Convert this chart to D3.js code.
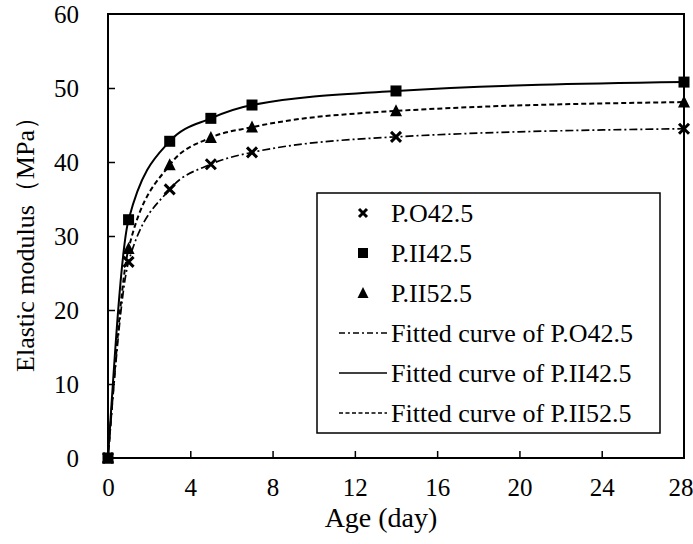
<!DOCTYPE html>
<html><head><meta charset="utf-8">
<script src="https://cdn.jsdelivr.net/npm/d3@7/dist/d3.min.js"></script>
<style>
html,body{margin:0;padding:0;background:#fff;}
text{font-family:"Liberation Serif","Times New Roman",serif;fill:#000;}
</style></head>
<body><svg id="c" width="693" height="544"></svg>
<script>
const ages = [0, 1, 3, 5, 7, 14, 28];
const seriesPO425 = [0, 26.5, 36.3, 39.7, 41.3, 43.4, 44.5];
const seriesPII425 = [0, 32.2, 42.8, 45.9, 47.7, 49.6, 50.8];
const seriesPII525 = [0, 28.3, 39.6, 43.3, 44.7, 46.9, 48.1];
const xTicks = [0, 4, 8, 12, 16, 20, 24, 28];
const yTicks = [0, 10, 20, 30, 40, 50, 60];
const legendLabels = ["P.O42.5", "P.II42.5", "P.II52.5",
  "Fitted curve of P.O42.5", "Fitted curve of P.II42.5", "Fitted curve of P.II52.5"];

const svg = d3.select("#c");
const L = 108, R = 684, T = 14, B = 458;
const x = d3.scaleLinear().domain([0, 28]).range([L, R]);
const y = d3.scaleLinear().domain([0, 60]).range([B, T]);
const FONT = '"Liberation Serif","Times New Roman",serif';

const series = [
  {name: "PO", vals: seriesPO425, marker: "x", dash: "8,3,2,3", width: 1.7},
  {name: "PII42", vals: seriesPII425, marker: "square", dash: null, width: 2},
  {name: "PII52", vals: seriesPII525, marker: "tri", dash: "5,3", width: 2}
];

// axes
const xAxis = d3.axisBottom(x).tickValues(xTicks).tickSize(-7).tickPadding(20).tickFormat(d3.format("d"));
const yAxis = d3.axisLeft(y).tickValues(yTicks).tickSize(-7).tickPadding(29).tickFormat(d3.format("d"));
const gx = svg.append("g").attr("transform", `translate(0,${B})`).call(xAxis);
const gy = svg.append("g").attr("transform", `translate(${L},0)`).call(yAxis);
[gx, gy].forEach(g => {
  g.select(".domain").remove();
  g.selectAll("line").attr("stroke", "#000").attr("stroke-width", 1.5);
  g.selectAll("text").style("font-size", "25px").style("font-family", FONT).attr("fill", "#000");
});
gx.selectAll(".tick").filter(d => d === 0 || d === 28).select("line").remove();
gy.selectAll(".tick").filter(d => d === 0 || d === 60).select("line").remove();
gy.selectAll("text").attr("dy", "0.35em");
gx.selectAll("text").attr("y", 38).attr("dy", 0);
gx.selectAll(".tick").filter(d => d === 28).select("text").attr("text-anchor", "end").attr("x", 693 - R);

// frame
svg.append("rect").attr("x", L).attr("y", T).attr("width", R - L).attr("height", B - T)
  .attr("fill", "none").attr("stroke", "#000").attr("stroke-width", 2);

// curves
const line = d3.line().x(d => x(d[0])).y(d => y(d[1])).curve(d3.curveMonotoneX);
series.forEach(s => {
  const pts = ages.map((a, i) => [a, s.vals[i]]);
  svg.append("path").attr("d", line(pts)).attr("fill", "none").attr("stroke", "#000")
    .attr("stroke-width", s.width).attr("stroke-dasharray", s.dash);
});

function drawMarker(g, type, cx, cy, sz) {
  if (type === "square") {
    g.append("rect").attr("x", cx - sz / 2).attr("y", cy - sz / 2).attr("width", sz).attr("height", sz).attr("fill", "#000");
  } else if (type === "tri") {
    const h = sz;
    g.append("path").attr("d", `M${cx},${cy - h * 0.55}L${cx + sz / 2},${cy + h * 0.45}L${cx - sz / 2},${cy + h * 0.45}Z`).attr("fill", "#000");
  } else {
    const r = sz / 2;
    g.append("path").attr("d", `M${cx - r},${cy - r}L${cx + r},${cy + r}M${cx - r},${cy + r}L${cx + r},${cy - r}`)
      .attr("stroke", "#000").attr("stroke-width", 3).attr("fill", "none");
  }
}
const gm = svg.append("g");
series.forEach(s => {
  ages.forEach((a, i) => {
    const sz = s.marker === "square" ? 11 : (s.marker === "tri" ? 12 : 10);
    drawMarker(gm, s.marker, x(a), y(s.vals[i]), sz);
  });
});

// legend
const lg = svg.append("g");
lg.append("rect").attr("x", 317).attr("y", 193).attr("width", 343).attr("height", 240)
  .attr("fill", "#fff").attr("stroke", "#000").attr("stroke-width", 1.5);
legendLabels.forEach((lab, i) => {
  const cy = 213 + i * 40;
  if (i < 3) {
    const s = series[i];
    drawMarker(lg, s.marker, 363, cy, s.marker === "square" ? 10 : (s.marker === "tri" ? 11 : 8));
  } else {
    const s = series[i - 3];
    lg.append("line").attr("x1", 339).attr("x2", 387).attr("y1", cy).attr("y2", cy)
      .attr("stroke", "#000").attr("stroke-width", s.dash ? 1.3 : 1.6).attr("stroke-dasharray", s.dash ? (i === 3 ? "6,3,2,3" : "4,2.5") : null);
  }
  lg.append("text").attr("x", 391).attr("y", cy).attr("dy", "0.35em").style("font-size", "26px").attr("fill", "#000").text(lab);
});

// axis titles
svg.append("text").attr("x", (L + R) / 2 - 15).attr("y", 527).attr("text-anchor", "middle").style("font-size", "28px").attr("fill", "#000").text("Age (day)");
svg.append("text").attr("transform", "translate(34,238) rotate(-90)").attr("text-anchor", "middle").style("font-size", "26px").attr("fill", "#000").text("Elastic modulus（MPa）");
</script></body></html>
